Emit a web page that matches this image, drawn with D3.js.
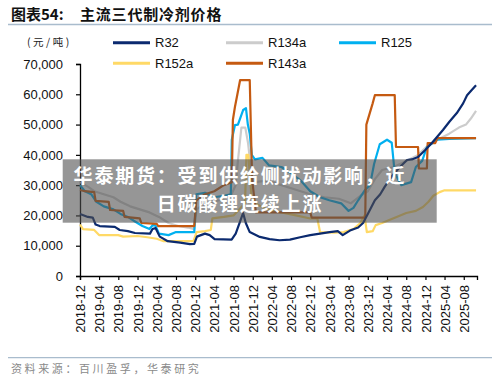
<!DOCTYPE html>
<html><head><meta charset="utf-8">
<script src="https://cdn.jsdelivr.net/npm/d3@7"></script>
<style>
html,body{margin:0;padding:0;background:#fff;}
svg{display:block;}
</style></head>
<body>
<svg id="c" width="500" height="383"></svg>
<script>
// ---------- data ----------
const seriesNames = ["R32","R134a","R125","R152a","R143a"];
const seriesColors = ["#0b2a6f","#cccccc","#00b0f0","#ffd966","#c55a11"];

const r32 = [
["2018-12-01",20500],["2019-01-20",19500],["2019-02-20",19300],["2019-03-10",17000],["2019-04-05",16500],
["2019-07-10",16200],["2019-08-10",15200],["2019-10-01",14800],["2019-11-15",14200],["2020-02-18",14000],
["2020-03-05",15500],["2020-03-25",15800],["2020-04-20",13000],["2020-06-10",11500],["2020-08-28",11000],
["2020-10-28",10500],["2020-11-25",10600],["2020-12-12",13000],["2021-02-01",14000],["2021-03-03",13500],
["2021-04-03",12200],["2021-07-20",12000],["2021-08-15",14000],["2021-09-12",18000],["2021-10-01",20800],
["2021-10-18",17500],["2021-11-12",14500],["2022-01-15",12900],["2022-03-18",12200],["2022-05-20",11800],
["2022-07-25",12000],["2022-09-28",12800],["2022-12-01",13500],["2023-02-01",14000],["2023-04-03",14500],
["2023-05-25",14800],["2023-06-25",13500],["2023-08-10",15000],["2023-10-01",16000],["2023-11-01",17500],
["2023-12-01",20500],["2024-01-15",25000],["2024-02-18",27000],["2024-03-18",29500],["2024-05-03",33000],
["2024-06-22",36000],["2024-08-06",38300],["2024-09-06",38500],["2024-10-15",39300],["2024-11-28",41500],
["2025-01-12",44000],["2025-03-22",48200],["2025-05-03",51000],["2025-06-18",53800],["2025-07-28",57000],
["2025-08-22",59700],["2025-09-22",61500],["2025-10-18",63000]
];
const r134a = [
["2018-12-01",31000],["2019-01-20",29500],["2019-03-01",28000],["2019-05-01",27000],["2019-07-01",26000],
["2019-08-15",24500],["2019-10-15",23000],["2019-12-15",22000],["2020-02-15",21000],["2020-04-15",19500],
["2020-06-15",17500],["2020-08-15",16500],["2020-10-15",16000],["2020-11-25",15500],["2020-12-10",22000],
["2021-02-01",24000],["2021-05-01",25000],["2021-07-15",26500],["2021-08-15",30000],["2021-08-29",38000],
["2021-09-20",49000],["2021-10-15",49000],["2021-11-01",44000],["2021-11-25",33000],["2021-12-15",31000],
["2022-03-01",31500],["2022-06-01",30000],["2022-09-01",28500],["2022-12-01",27000],["2023-03-01",26000],
["2023-06-01",25500],["2023-08-15",24000],["2023-10-15",26500],["2023-12-01",28000],["2024-01-15",32000],
["2024-03-01",35000],["2024-05-15",36000],["2024-08-01",38000],["2024-10-15",40000],["2024-12-15",43000],
["2025-02-15",45000],["2025-05-01",47000],["2025-07-01",49000],["2025-08-15",50000],["2025-09-15",52000],
["2025-10-18",54500]
];
const r125 = [
["2018-12-01",30000],["2019-01-01",28000],["2019-02-10",27000],["2019-03-15",24500],["2019-05-01",23000],
["2019-07-01",22000],["2019-08-15",20500],["2019-10-01",19500],["2019-11-15",18000],["2020-01-01",16500],
["2020-02-15",15500],["2020-03-10",17000],["2020-03-25",16500],["2020-04-15",14000],["2020-06-15",13500],
["2020-08-01",14500],["2020-11-25",14500],["2020-12-08",27000],["2021-02-01",27500],["2021-04-01",26000],
["2021-06-01",26500],["2021-07-15",27000],["2021-07-21",45000],["2021-08-10",49800],["2021-08-29",50000],
["2021-10-01",54800],["2021-10-19",55400],["2021-10-31",50000],["2021-11-12",47000],["2021-11-25",40000],
["2021-12-15",38500],["2022-02-01",39000],["2022-03-15",36500],["2022-06-01",36000],["2022-08-01",34000],
["2022-10-01",31500],["2022-12-01",28000],["2023-02-01",26000],["2023-04-01",25000],["2023-06-15",24000],
["2023-08-01",21500],["2023-09-01",22500],["2023-10-01",25000],["2023-11-15",28500],["2023-12-15",30000],
["2024-01-10",37000],["2024-02-15",43500],["2024-04-01",45000],["2024-05-01",44000],["2024-05-20",34000],
["2024-07-01",30000],["2024-09-01",31000],["2024-10-01",36000],["2024-11-10",38000],["2024-12-10",42600],
["2025-02-15",45000],["2025-05-01",45300],["2025-10-18",45500]
];
const r152a = [
["2018-12-01",17000],["2018-12-20",15500],["2019-03-01",15200],["2019-04-01",13500],["2019-08-01",13500],
["2019-09-01",13000],["2019-12-01",13200],["2020-02-01",12800],["2020-04-01",12300],["2020-05-15",11500],
["2020-11-20",11500],["2020-12-10",14500],["2021-02-01",14800],["2021-03-10",15200],["2021-03-20",19000],
["2021-06-01",19500],["2021-08-01",20000],["2021-10-13",24000],["2021-10-22",40000],["2021-11-03",40000],
["2021-11-25",25000],["2021-12-15",24000],["2022-03-01",22000],["2022-06-01",21000],["2022-09-01",20000],
["2022-12-01",19000],["2023-01-15",19000],["2023-02-01",14500],["2023-05-01",14300],["2023-07-01",14500],
["2023-09-01",15500],["2023-10-15",17500],["2023-11-10",20000],["2023-11-25",14500],["2024-01-01",14800],
["2024-01-20",16800],["2024-03-01",17500],["2024-04-15",18500],["2024-06-01",19500],["2024-08-01",20800],
["2024-10-01",21500],["2024-11-15",22800],["2024-12-20",24500],["2025-01-20",26500],["2025-03-01",27700],
["2025-04-01",28300],["2025-10-18",28300]
];
const r143a = [
["2018-12-01",28400],["2019-01-01",28000],["2019-03-01",27700],["2019-03-10",24800],["2019-06-01",24500],
["2019-06-10",21800],["2019-09-01",21500],["2019-09-10",19500],["2019-12-15",19000],["2019-12-25",17500],
["2020-04-01",17200],["2020-04-10",16500],["2020-11-25",16500],["2020-12-08",25000],["2021-02-01",27000],
["2021-04-01",28000],["2021-06-01",30000],["2021-07-21",31000],["2021-07-28",51500],["2021-08-10",55800],
["2021-08-22",59000],["2021-09-12",64700],["2021-11-12",64700],["2021-11-27",32000],["2021-12-21",21000],
["2022-12-01",21000],["2022-12-10",19300],["2023-11-15",19300],["2023-11-22",50000],["2024-01-01",57000],
["2024-01-15",59700],["2024-05-20",59700],["2024-05-28",42600],["2024-10-15",42600],["2024-10-20",35500],
["2024-12-10",35500],["2024-12-15",43900],["2025-02-01",43900],["2025-02-15",45500],["2025-10-18",45500]
];
const seriesData = [r32, r134a, r125, r152a, r143a];

const xTickLabels = ["2018-12","2019-04","2019-08","2019-12","2020-04","2020-08","2020-12","2021-04",
"2021-08","2021-12","2022-04","2022-08","2022-12","2023-04","2023-08","2023-12","2024-04","2024-08",
"2024-12","2025-04","2025-08"];
const yTicks = [0,10000,20000,30000,40000,50000,60000,70000];

const titleText = "图表54:";
const titleText2 = "主流三代制冷剂价格";
const unitText = "(元/吨)";
const sourceText = "资料来源：百川盈孚，华泰研究";
const bannerLines = ["华泰期货：受到供给侧扰动影响，近","日碳酸锂连续上涨"];

// ---------- drawing ----------
const svg = d3.select("#c");
const parse = d3.timeParse("%Y-%m-%d");
const parseM = d3.timeParse("%Y-%m");

const x = d3.scaleTime()
  .domain([parse("2018-12-01"), parse("2025-10-24")])
  .range([80, 477]);
const y = d3.scaleLinear().domain([0,70000]).range([276, 64]);

// title
svg.append("text").attr("x",11).attr("y",20)
  .attr("font-family","'Noto Sans CJK SC', sans-serif").attr("font-weight","bold")
  .attr("font-size",15).attr("fill","#111")
  .text(titleText);
svg.append("text").attr("x",80).attr("y",20)
  .attr("font-family","'Noto Sans CJK SC', sans-serif").attr("font-weight","bold")
  .attr("font-size",15).attr("letter-spacing","0.8px").attr("fill","#111")
  .text(titleText2);
svg.append("line").attr("x1",8).attr("x2",492).attr("y1",24.5).attr("y2",24.5)
  .attr("stroke","#a9bccd").attr("stroke-width",1.6);

// unit
svg.append("text").attr("x",27).attr("y",42.5).attr("dy","0.35em")
  .attr("font-family","'Noto Sans CJK SC', sans-serif").attr("font-size",10.5)
  .attr("letter-spacing","2.5px").attr("fill","#222").text(unitText);

// legend
const legPos = [[113,42.7],[226,42.7],[339,42.7],[113,63.3],[226,63.3]];
seriesNames.forEach((n,i)=>{
  const g = svg.append("g").attr("transform",`translate(${legPos[i][0]},${legPos[i][1]})`);
  g.append("line").attr("x1",0).attr("x2",37).attr("y1",0).attr("y2",0)
    .attr("stroke",seriesColors[i]).attr("stroke-width",3);
  g.append("text").attr("x",42).attr("y",0).attr("dy","0.36em")
    .attr("font-family","'Liberation Sans', Arial, sans-serif").attr("font-size",13)
    .attr("fill","#111").text(n);
});

// axes
const yAxis = d3.axisLeft(y).tickValues(yTicks).tickSize(4).tickPadding(13)
  .tickFormat(d3.format(","));
const gy = svg.append("g").attr("transform","translate(80,0)").call(yAxis);
gy.selectAll("text").attr("font-family","'Liberation Sans', Arial, sans-serif")
  .attr("font-size",13).attr("fill","#111");
gy.select(".domain").attr("stroke","#000").attr("stroke-width",1.3);
gy.selectAll(".tick line").attr("stroke","#000").attr("stroke-width",1.2);

const xAxis = d3.axisBottom(x).tickValues(xTickLabels.map(s=>parseM(s))).tickSize(4)
  .tickFormat(d3.timeFormat("%Y-%m"));
const gx = svg.append("g").attr("transform","translate(0,276)").call(xAxis);
gx.selectAll("text").attr("font-family","'Liberation Sans', Arial, sans-serif")
  .attr("font-size",13).attr("fill","#111")
  .attr("transform","rotate(-90)").attr("x",-9).attr("y",0).attr("dy","0.36em")
  .style("text-anchor","end");
gx.select(".domain").attr("stroke","#000").attr("stroke-width",1.3);
gx.selectAll(".tick line").attr("stroke","#000").attr("stroke-width",1.2);

// lines
const line = d3.line().x(d=>x(parse(d[0]))).y(d=>y(d[1]));
const order = [1,3,2,4,0];
order.forEach(i=>{
  svg.append("path").datum(seriesData[i]).attr("d",line)
    .attr("fill","none").attr("stroke",seriesColors[i]).attr("stroke-width",2.2)
    .attr("stroke-linejoin","round");
});

// footer
svg.append("line").attr("x1",8).attr("x2",492).attr("y1",357.7).attr("y2",357.7)
  .attr("stroke","#a9bccd").attr("stroke-width",1.3);
svg.append("text").attr("x",11).attr("y",369).attr("dy","0.35em")
  .attr("font-family","'Noto Sans CJK SC', sans-serif").attr("font-size",11)
  .attr("letter-spacing","2.6px").attr("fill","#8a8a8a").text(sourceText);

// overlay banner
svg.append("rect").attr("x",62.7).attr("y",159.3).attr("width",374).attr("height",63.4)
  .attr("fill","rgba(80,80,80,0.6)");
bannerLines.forEach((t,i)=>{
  svg.append("text").attr("x",240).attr("y",[176,204][i]).attr("dy","0.36em")
    .attr("text-anchor","middle")
    .attr("font-family","'Noto Sans CJK SC', sans-serif").attr("font-weight","bold")
    .attr("font-size",19).attr("letter-spacing","1.8px").attr("fill","#fff").text(t);
});
</script>
</body></html>
